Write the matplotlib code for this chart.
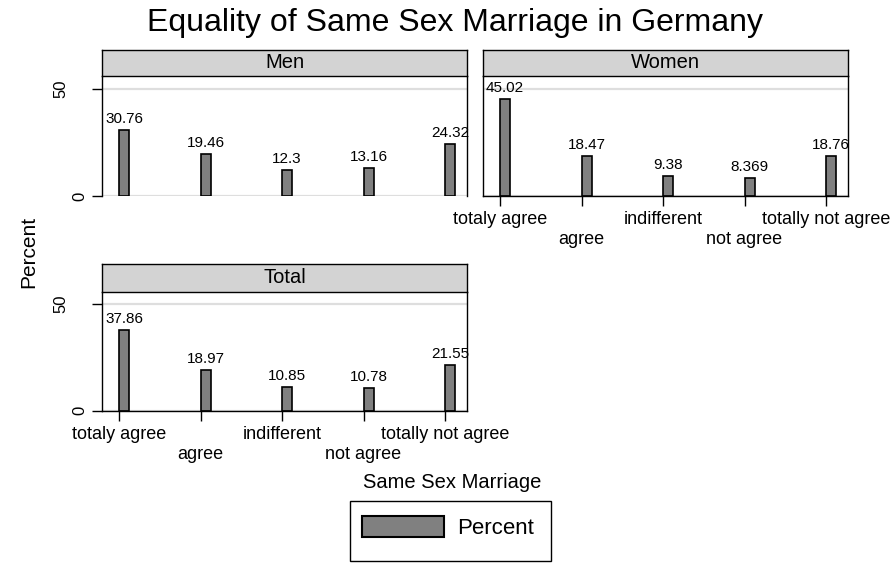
import matplotlib
matplotlib.use("Agg")
import matplotlib.pyplot as plt
from matplotlib.patches import Rectangle

plt.rcParams['font.family'] = ['Liberation Sans', 'DejaVu Sans']

# ---- data ----
categories = ["totaly agree", "agree", "indifferent", "not agree", "totally not agree"]
men = [30.76, 19.46, 12.3, 13.16, 24.32]
women = [45.02, 18.47, 9.38, 8.369, 18.76]
total = [37.86, 18.97, 10.85, 10.78, 21.55]
men_labels = ["30.76", "19.46", "12.3", "13.16", "24.32"]
women_labels = ["45.02", "18.47", "9.38", "8.369", "18.76"]
total_labels = ["37.86", "18.97", "10.85", "10.78", "21.55"]
yticks = [0, 50]
ytick_labels = ["0", "50"]
panel_titles = ["Men", "Women", "Total"]

W, H = 896, 563
fig = plt.figure(figsize=(W / 100, H / 100), dpi=100)
fig.patch.set_facecolor('white')

def fx(px):
    return px / W

def fy(py):
    return 1 - py / H

BAR_COLOR = '#808080'
GRID_COLOR = '#dedede'
STRIP_COLOR = '#d3d3d3'
XLIM = (0.791, 5.27)
YLIM = (0, 55.6)
BW = 0.123

positions = list(range(1, len(categories) + 1))


def panel(left, right, top_strip, top, bottom, values, vlabels, title,
          show_y, show_x, bottom_spine):
    ax = fig.add_axes([fx(left), fy(bottom), fx(right - left), (bottom - top) / H])
    ax.set_xlim(*XLIM)
    ax.set_ylim(*YLIM)
    for yv in yticks:
        ax.axhline(yv, color=GRID_COLOR, lw=1.6, zorder=0)
    ax.bar(positions, values, width=BW, align='edge', color=BAR_COLOR,
           edgecolor='black', linewidth=1.2, zorder=2)
    for xp, v, lab in zip(positions, values, vlabels):
        ax.annotate(lab, (xp + BW / 2, v), xytext=(0, 7), textcoords='offset pixels',
                    ha='center', va='baseline', fontsize=11, zorder=3,
                    annotation_clip=False)
    for s in ['left', 'right', 'top']:
        ax.spines[s].set_color('black')
        ax.spines[s].set_linewidth(1.0)
    ax.spines['top'].set_visible(False)
    ax.spines['bottom'].set_visible(bottom_spine)
    ax.spines['bottom'].set_linewidth(1.0)
    ax.set_yticks(yticks)
    ax.set_yticklabels([])
    if show_y:
        ax.tick_params(axis='y', length=7, width=1.0, color='black', direction='out')
        offsets = {0: -22, 50: -41}
        for yv, lab in zip(yticks, ytick_labels):
            ax.annotate(lab, (0, yv), xycoords=('axes fraction', 'data'),
                        xytext=(offsets[yv], 0), textcoords='offset pixels',
                        rotation=90, ha='center', va='center', fontsize=12)
    else:
        ax.tick_params(axis='y', length=0)
    ax.set_xticks(positions)
    if show_x:
        ax.set_xticklabels(categories, fontsize=13)
        ax.tick_params(axis='x', length=7, width=1.0, pad=4)
        for i, t in enumerate(ax.xaxis.get_major_ticks()):
            if i % 2 == 1:
                t.set_pad(4 + 14.5)
    else:
        ax.set_xticklabels([])
        ax.tick_params(axis='x', length=0)
    sax = fig.add_axes([fx(left), fy(top), fx(right - left), (top - top_strip) / H])
    sax.set_facecolor(STRIP_COLOR)
    sax.set_xticks([])
    sax.set_yticks([])
    for s in sax.spines.values():
        s.set_color('black')
        s.set_linewidth(1.0)
    sax.text(0.5, 0.5, title, transform=sax.transAxes, ha='center', va='center',
             fontsize=14.5)
    return ax


panel(102, 467, 49.5, 76.5, 196, men, men_labels, panel_titles[0],
      show_y=True, show_x=False, bottom_spine=False)
panel(483, 848, 49.5, 76.5, 196, women, women_labels, panel_titles[1],
      show_y=False, show_x=True, bottom_spine=True)
panel(102, 467, 264, 291.7, 410.7, total, total_labels, panel_titles[2],
      show_y=True, show_x=True, bottom_spine=True)

fig.text(fx(455), fy(23), "Equality of Same Sex Marriage in Germany",
         ha='center', va='center', fontsize=23)
fig.text(fx(28.5), fy(252), "Percent", rotation=90, ha='center', va='center',
         fontsize=15)

fig.text(fx(452), fy(482), "Same Sex Marriage", ha='center', va='center', fontsize=14.5)
fig.add_artist(Rectangle((fx(350), fy(561)), fx(201), (561 - 501) / H,
                         transform=fig.transFigure, facecolor='white',
                         edgecolor='black', linewidth=1.0))
fig.add_artist(Rectangle((fx(362), fy(537)), fx(82), 21 / H,
                         transform=fig.transFigure, facecolor=BAR_COLOR,
                         edgecolor='black', linewidth=1.5))
fig.text(fx(457), fy(528), "Percent", ha='left', va='center', fontsize=16)

fig.savefig("out.png", dpi=100)
